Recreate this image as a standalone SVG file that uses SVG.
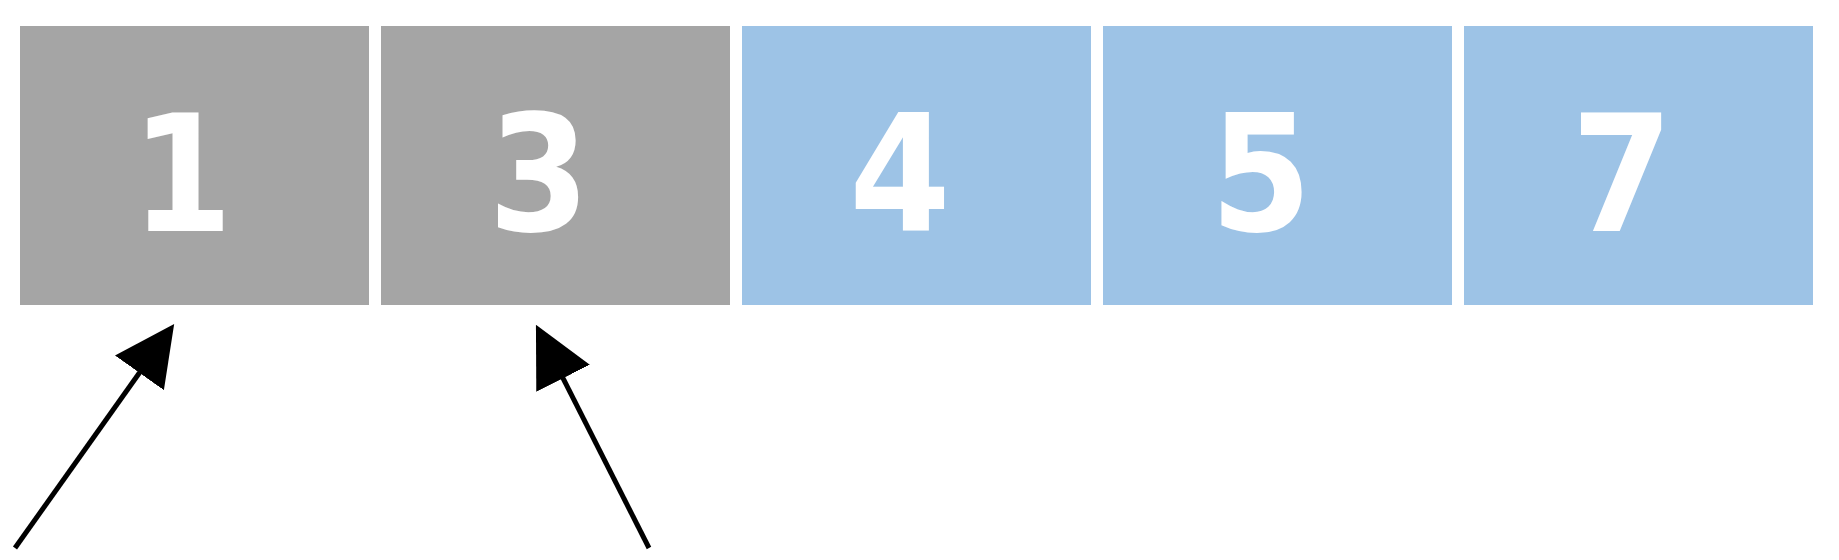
<svg xmlns="http://www.w3.org/2000/svg" width="1839" height="560" viewBox="0 0 1839 560">
<style>
.gray{fill:#A5A5A5}
.blue{fill:#9DC3E6}
.lbl{font-family:"DejaVu Sans",sans-serif;font-weight:bold;font-size:162px;fill:#FFFFFF;text-anchor:middle}
.arr{stroke:#000000;stroke-width:5;fill:none}
</style>
<defs>
<marker id="head" markerUnits="userSpaceOnUse" viewBox="0 0 60 60" refX="1" refY="30" markerWidth="60" markerHeight="60" orient="auto">
<path d="M0,0 L60,30 L0,60 Z" fill="#000000"/>
</marker>
</defs>
<rect width="1839" height="560" fill="#FFFFFF"/>
<g id="node1"><rect class="gray" x="20" y="26" width="349" height="279"/><text class="lbl" transform="translate(182,231) scale(0.9,1)">1</text></g>
<g id="node3"><rect class="gray" x="381" y="26" width="349" height="279"/><text class="lbl" transform="translate(539,231) scale(0.9,1)">3</text></g>
<g id="node4"><rect class="blue" x="742" y="26" width="349" height="279"/><text class="lbl" transform="translate(900,231) scale(0.9,1)">4</text></g>
<g id="node5"><rect class="blue" x="1103" y="26" width="349" height="279"/><text class="lbl" transform="translate(1261,231) scale(0.9,1)">5</text></g>
<g id="node7"><rect class="blue" x="1464" y="26" width="349" height="279"/><text class="lbl" transform="translate(1622,231) scale(0.9,1)">7</text></g>
<g id="connectors">
<line class="arr" x1="15" y1="548" x2="140" y2="372" marker-end="url(#head)"/>
<line class="arr" x1="649" y1="548" x2="562.6" y2="377.4" marker-end="url(#head)"/>
</g>
</svg>
